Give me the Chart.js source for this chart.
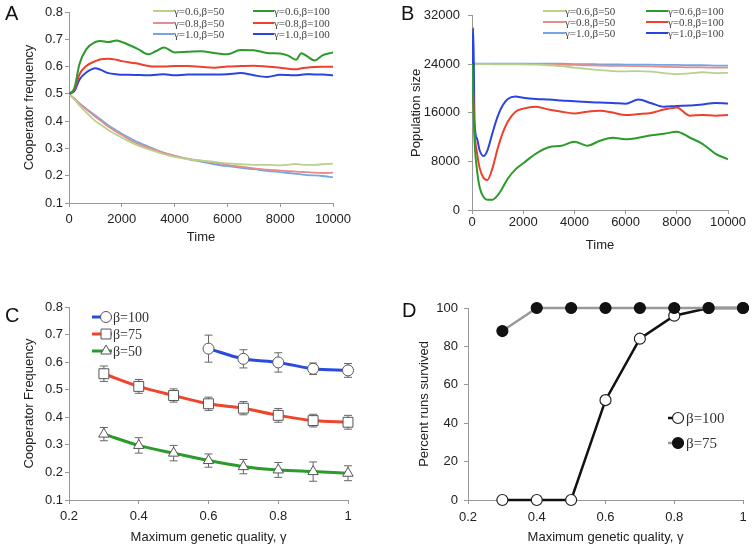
<!DOCTYPE html>
<html>
<head>
<meta charset="utf-8">
<script src="https://cdn.jsdelivr.net/npm/chart.js@4.4.0/dist/chart.umd.min.js"></script>
<style>
  body { margin: 0; background: #fff; width: 753px; height: 548px; position: relative; overflow: hidden; }
  canvas { position: absolute; }
  .tag { position: absolute; font: 20px/20px "Liberation Sans", Arial, sans-serif; color: #111; }
</style>
</head>
<body>
<canvas id="chartA" width="376" height="260" style="left:0;top:0"></canvas>
<canvas id="chartB" width="377" height="260" style="left:376px;top:0"></canvas>
<canvas id="chartC" width="376" height="278" style="left:0;top:270px"></canvas>
<canvas id="chartD" width="377" height="278" style="left:376px;top:270px"></canvas>
<div class="tag" style="left:5px;top:3px">A</div>
<div class="tag" style="left:401px;top:3px">B</div>
<div class="tag" style="left:5px;top:305px">C</div>
<div class="tag" style="left:402px;top:300px">D</div>
<script>
// ---- data ----
const seriesLabels = ['γ=0.6,β=50', 'γ=0.8,β=50', 'γ=1.0,β=50', 'γ=0.6,β=100', 'γ=0.8,β=100', 'γ=1.0,β=100'];

// A: cooperator frequency over time
const tA = [0, 200, 400, 650, 1000, 1200, 1500, 1800, 2000, 2300, 2600, 3000, 3300, 3600, 4000, 4500, 5000, 5500, 6000, 6500, 7000, 7500, 8000, 8300, 8600, 8800, 9000, 9300, 9600, 10000];
const a06b50 = [.5, .48, .458, .432, .40, .387, .367, .35, .339, .325, .311, .297, .288, .279, .269, .261, .255, .251, .245, .242, .24, .24, .238, .24, .243, .241, .24, .24, .242, .244];
const a08b50 = [.5, .482, .463, .443, .416, .401, .379, .361, .349, .332, .317, .303, .293, .284, .273, .263, .255, .248, .24, .233, .227, .222, .219, .217, .215, .214, .213, .211, .21, .211];
const a10b50 = [.5, .483, .465, .446, .421, .406, .384, .366, .354, .338, .323, .307, .295, .284, .273, .261, .252, .242, .235, .229, .224, .218, .213, .21, .207, .205, .202, .201, .199, .194];
const a06b100 = [.5, .52, .61, .663, .69, .694, .69, .696, .69, .678, .665, .645, .657, .67, .652, .654, .656, .65, .645, .661, .66, .65, .648, .64, .625, .649, .639, .622, .641, .652];
const a08b100 = [.5, .515, .572, .602, .62, .627, .629, .625, .62, .615, .611, .602, .6, .6, .602, .602, .599, .596, .6, .602, .603, .6, .596, .592, .59, .594, .596, .598, .599, .599];
const a10b100 = [.5, .51, .553, .578, .594, .588, .576, .572, .57, .57, .569, .568, .57, .572, .568, .571, .571, .571, .572, .576, .568, .562, .57, .569, .568, .57, .572, .571, .571, .568];

// B: population size over time
const tB = [0, 50, 100, 200, 300, 450, 600, 800, 1000, 1200, 1400, 1700, 2000, 2500, 3000, 3500, 4000, 4500, 5000, 5500, 6000, 6500, 7000, 7500, 8000, 8500, 9000, 9500, 10000];
const b06b50 = [24000, 23300, 24100, 24000, 24050, 24050, 24050, 24000, 24000, 24000, 24000, 24000, 24000, 23950, 23850, 23700, 23450, 23250, 23050, 22900, 22850, 22900, 22800, 22550, 22400, 22500, 22700, 22550, 22600];
const b08b50 = [24000, 23600, 24100, 24050, 24050, 24050, 24050, 24050, 24050, 24050, 24050, 24050, 24050, 24050, 24000, 23950, 23900, 23850, 23800, 23750, 23750, 23700, 23650, 23600, 23550, 23500, 23500, 23450, 23450];
const b10b50 = [24000, 23800, 24150, 24100, 24100, 24100, 24100, 24100, 24100, 24100, 24100, 24100, 24100, 24100, 24100, 24100, 24050, 24050, 24000, 24000, 23950, 23950, 23950, 23900, 23900, 23850, 23850, 23800, 23800];
const b06b100 = [24000, 18000, 11400, 6400, 3700, 2150, 1700, 1700, 2400, 3700, 5200, 6700, 7700, 9300, 10350, 10600, 11250, 10600, 11400, 11900, 11650, 11900, 12300, 12550, 12900, 11950, 10900, 9300, 8350];
const b08b100 = [24000, 19000, 13000, 9300, 6900, 5300, 4950, 6900, 10100, 12700, 14600, 16200, 16700, 17000, 16550, 16200, 15900, 16200, 16350, 16050, 15650, 15800, 16000, 16550, 16900, 15550, 15650, 15550, 15650];
const b10b100 = [24000, 30000, 14500, 11700, 9800, 8900, 9800, 12700, 15400, 17250, 18300, 18700, 18500, 18300, 18200, 18050, 17900, 17800, 17700, 17650, 17500, 18200, 17600, 17000, 17150, 17200, 17400, 17650, 17550];

// C and D: against maximum genetic quality
const gamma = [0.3, 0.4, 0.5, 0.6, 0.7, 0.8, 0.9, 1.0];
const freq100 = [null, null, null, 0.649, 0.612, 0.599, 0.576, 0.570];
const err100 = [null, null, null, 0.049, 0.033, 0.035, 0.021, 0.025];
const freq75 = [0.558, 0.512, 0.479, 0.449, 0.433, 0.407, 0.388, 0.382];
const err75 = [0.028, 0.025, 0.024, 0.024, 0.024, 0.025, 0.023, 0.025];
const freq50 = [0.339, 0.298, 0.270, 0.243, 0.221, 0.209, 0.203, 0.197];
const err50 = [0.024, 0.028, 0.028, 0.024, 0.026, 0.027, 0.035, 0.027];
const surv100 = [0, 0, 0, 52, 84, 96, 100, 100];
const surv75 = [88, 100, 100, 100, 100, 100, 100, 100];

// ---- styling ----
const AXIS = '#999';
const INK = '#222';
const SANS = '"Liberation Sans", Arial, sans-serif';
const SERIF = '"Liberation Serif", "Times New Roman", serif';
const lineColors = ['#b9d18c', '#e68c8c', '#74a6e2', '#2b9b2b', '#f0402c', '#2a44e0'];

Chart.defaults.font.family = SANS;
Chart.defaults.animation = false;

function zip(xs, ys) { return xs.map((x, i) => ({x: x, y: ys[i]})); }

function scale(o) {
  return {
    type: 'linear', min: o.min, max: o.max,
    border: {color: AXIS},
    grid: {drawOnChartArea: false, tickLength: 4, color: AXIS},
    ticks: {stepSize: o.step, padding: o.tickPad, color: INK, font: {size: 13},
            autoSkip: false, maxRotation: 0, callback: o.fmt},
    title: {display: true, text: o.title, color: INK, font: {size: 13}, padding: o.titlePad},
    afterFit: o.fit
  };
}

// two-column line legend used in A and B
const pairLegend = {
  id: 'pairLegend',
  afterDraw(chart, args, o) {
    const ctx = chart.ctx;
    ctx.save();
    ctx.font = o.font;
    ctx.textBaseline = 'middle';
    chart.data.datasets.forEach((ds, i) => {
      const x = o.cols[Math.floor(i / 3)], y = o.rows[i % 3];
      ctx.strokeStyle = ds.borderColor;
      ctx.lineWidth = 2;
      ctx.beginPath(); ctx.moveTo(x, y); ctx.lineTo(x + o.len, y); ctx.stroke();
      ctx.fillStyle = o.color;
      ctx.fillText(ds.label, x + o.len, y + 1);
    });
    ctx.restore();
  }
};

// line + marker legend used in C and D
const markerLegend = {
  id: 'markerLegend',
  afterDraw(chart, args, o) {
    const ctx = chart.ctx;
    ctx.save();
    ctx.font = o.font;
    ctx.textBaseline = 'middle';
    o.rows.forEach((y, i) => {
      const ds = chart.data.datasets[i];
      ctx.strokeStyle = ds.borderColor;
      ctx.lineWidth = ds.borderWidth;
      ctx.beginPath(); ctx.moveTo(o.x0, y); ctx.lineTo(o.x1, y); ctx.stroke();
      ctx.fillStyle = ds.pointBackgroundColor;
      ctx.strokeStyle = ds.pointBorderColor;
      ctx.lineWidth = ds.pointBorderWidth;
      Chart.helpers.drawPoint(ctx, {pointStyle: ds.pointStyle, radius: ds.pointRadius, rotation: 0,
                                    borderWidth: ds.pointBorderWidth}, o.mx, y);
      ctx.fillStyle = o.color;
      ctx.fillText(ds.label, o.tx, y + 1);
    });
    ctx.restore();
  }
};

const errorBars = {
  id: 'errorBars',
  beforeDatasetsDraw(chart, args, o) {
    const {ctx, scales: {x, y}} = chart;
    ctx.save();
    ctx.strokeStyle = o.color;
    ctx.lineWidth = o.width;
    chart.data.datasets.forEach(ds => {
      ds.data.forEach((p, j) => {
        const e = ds.errors[j];
        if (p.y === null || e === null) return;
        const px = x.getPixelForValue(p.x);
        const top = y.getPixelForValue(p.y + e), bot = y.getPixelForValue(p.y - e);
        ctx.beginPath();
        ctx.moveTo(px, top); ctx.lineTo(px, bot);
        ctx.moveTo(px - o.cap, top); ctx.lineTo(px + o.cap, top);
        ctx.moveTo(px - o.cap, bot); ctx.lineTo(px + o.cap, bot);
        ctx.stroke();
      });
    });
    ctx.restore();
  }
};

function timeSets(t, lists) {
  return lists.map((vals, i) => ({
    label: seriesLabels[i],
    data: zip(t, vals),
    borderColor: lineColors[i],
    borderWidth: i < 3 ? 1.8 : 2,
    pointRadius: 0,
    cubicInterpolationMode: 'monotone',
    order: i < 3 ? 1 : 0
  }));
}

const fmt1 = v => v.toFixed(1);
const fmtG = v => String(+v.toFixed(1));

// ---- A ----
new Chart(document.getElementById('chartA'), {
  type: 'line',
  data: {datasets: timeSets(tA, [a06b50, a08b50, a10b50, a06b100, a08b100, a10b100])},
  options: {
    responsive: false,
    layout: {padding: {top: 12, right: 43, left: 0, bottom: 0}},
    scales: {
      x: scale({min: 0, max: 10000, step: 2000, tickPad: 5, title: 'Time', titlePad: 15, fit: s => { s.height = 57; }}),
      y: scale({min: 0.1, max: 0.8, step: 0.1, tickPad: 2, fmt: fmt1, title: 'Cooperator frequency', titlePad: 22, fit: s => { s.width = 69; }})
    },
    plugins: {
      legend: {display: false}, tooltip: {enabled: false},
      pairLegend: {cols: [153, 253], rows: [11, 23, 34], len: 21, font: '11px ' + SERIF, color: '#444'}
    }
  },
  plugins: [pairLegend]
});

// ---- B ----
new Chart(document.getElementById('chartB'), {
  type: 'line',
  data: {datasets: timeSets(tB, [b06b50, b08b50, b10b50, b06b100, b08b100, b10b100])},
  options: {
    responsive: false,
    layout: {padding: {top: 9, right: 25, left: 0, bottom: 0}},
    scales: {
      x: scale({min: 0, max: 10000, step: 2000, tickPad: 1, title: 'Time', titlePad: 7, fit: s => { s.height = 50; }}),
      y: scale({min: 0, max: 32000, step: 8000, tickPad: 8, fmt: v => String(v), title: 'Population size', titlePad: 33, fit: s => { s.width = 96; }})
    },
    plugins: {
      legend: {display: false}, tooltip: {enabled: false},
      pairLegend: {cols: [167, 270], rows: [11, 22, 33], len: 22, font: '11px ' + SERIF, color: '#444'}
    }
  },
  plugins: [pairLegend]
});

// ---- C ----
function freqSet(label, vals, errs, color, style, radius) {
  return {
    label: label, data: zip(gamma, vals), errors: errs,
    borderColor: color, borderWidth: 3, tension: 0.4, cubicInterpolationMode: 'monotone',
    pointStyle: style, pointRadius: radius, pointBackgroundColor: '#fff',
    pointBorderColor: '#555', pointBorderWidth: 1, clip: false
  };
}

new Chart(document.getElementById('chartC'), {
  type: 'line',
  data: {datasets: [
    freqSet('β=100', freq100, err100, '#2a4be0', 'circle', 5.5),
    freqSet('β=75', freq75, err75, '#f0442c', 'rect', 7),
    freqSet('β=50', freq50, err50, '#2b9b2b', 'triangle', 6)
  ]},
  options: {
    responsive: false,
    layout: {padding: {top: 37, right: 28, left: 0, bottom: 0}},
    scales: {
      x: scale({min: 0.2, max: 1, step: 0.2, tickPad: 5, fmt: fmtG, title: 'Maximum genetic quality, γ', titlePad: 3, fit: s => { s.height = 48; }}),
      y: scale({min: 0.1, max: 0.8, step: 0.1, tickPad: 2, fmt: fmt1, title: 'Cooperator Frequency', titlePad: 22, fit: s => { s.width = 69; }})
    },
    plugins: {
      legend: {display: false}, tooltip: {enabled: false},
      errorBars: {color: '#666', width: 1, cap: 4},
      markerLegend: {rows: [47, 64, 81], x0: 92, x1: 112, mx: 106, tx: 113, font: '14px ' + SERIF, color: '#333'}
    }
  },
  plugins: [errorBars, markerLegend]
});

// ---- D ----
new Chart(document.getElementById('chartD'), {
  type: 'line',
  data: {datasets: [
    {label: 'β=100', data: zip(gamma, surv100), borderColor: '#111', borderWidth: 2.5,
     pointStyle: 'circle', pointRadius: 5.5, pointBackgroundColor: '#fff', pointBorderColor: '#222',
     pointBorderWidth: 1.2, order: 1, clip: false},
    {label: 'β=75', data: zip(gamma, surv75), borderColor: '#999', borderWidth: 2.5,
     pointStyle: 'circle', pointRadius: 5.5, pointBackgroundColor: '#111', pointBorderColor: '#111',
     pointBorderWidth: 1.2, order: 0, clip: false}
  ]},
  options: {
    responsive: false,
    layout: {padding: {top: 38, right: 10, left: 0, bottom: 0}},
    scales: {
      x: scale({min: 0.2, max: 1, step: 0.2, tickPad: 6, fmt: fmtG, title: 'Maximum genetic quality, γ', titlePad: 3, fit: s => { s.height = 48; }}),
      y: scale({min: 0, max: 100, step: 20, tickPad: 6, fmt: v => String(v), title: 'Percent runs survived', titlePad: 41, fit: s => { s.width = 92; }})
    },
    plugins: {
      legend: {display: false}, tooltip: {enabled: false},
      markerLegend: {rows: [148, 173], x0: 292, x1: 308, mx: 302, tx: 310, font: '15px ' + SERIF, color: '#333'}
    }
  },
  plugins: [markerLegend]
});
</script>
</body>
</html>
